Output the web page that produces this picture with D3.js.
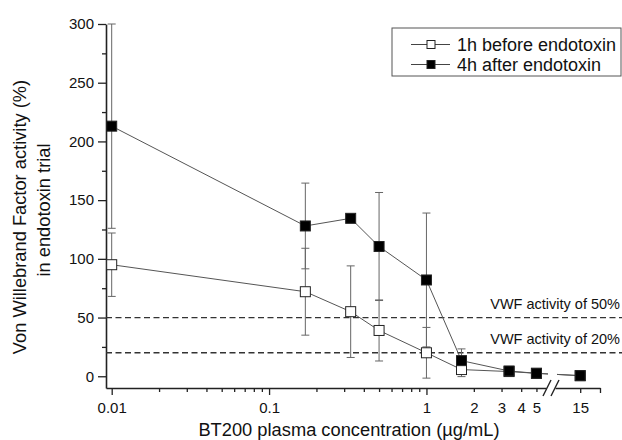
<!DOCTYPE html>
<html>
<head>
<meta charset="utf-8">
<script src="https://cdn.jsdelivr.net/npm/d3@7"></script>
<style>
  body { margin: 0; background: #fff; }
  svg { display: block; font-family: "Liberation Sans", Arial, sans-serif; }
</style>
</head>
<body>
<svg id="chart" width="622" height="440"></svg>
<script>

// concentrations (ug/mL), x = 15 sits after the axis break
var conc_before = [0.01, 0.17, 0.33, 0.5, 1.0, 1.67, 3.35, 5, 15];
var vwf_before  = [95, 72, 55, 39, 20, 5.7, 4, 2.5, 0.5];
var err_before  = [27, 37, 39, 26, 21.6, 6, null, null, null];

var conc_after = [0.01, 0.17, 0.33, 0.5, 1.0, 1.67, 3.35, 5, 15];
var vwf_after  = [213, 128, 134.5, 110.5, 82, 13.3, 4.5, 2.5, 0.5];
var err_after  = [87, 36.5, null, 46, 57, 10, null, null, null];

var xMajor = [0.01, 0.1, 1];
var xMinor = [0.02, 0.03, 0.04, 0.05, 0.06, 0.07, 0.08, 0.09,
              0.2, 0.3, 0.4, 0.5, 0.6, 0.7, 0.8, 0.9, 2, 3, 4, 5];
var xMinorLabeled = [2, 3, 4, 5];
var xRightTicks = [15, 20];
var yMajor = [0, 50, 100, 150, 200, 250, 300];
var yMinor = [25, 75, 125, 175, 225, 275];

var thresholds = [50, 20];
var thresholdLabels = ["VWF activity of 50%", "VWF activity of 20%"];

var seriesNames = ["1h before endotoxin", "4h after endotoxin"];


var svg = d3.select("#chart");

// broken log axis: two pieces sharing the same px per decade
var xA = d3.scaleLog().domain([0.0092, 5.75]).range([106, 546]);
var xB = d3.scaleLog().domain([10.4, 20]).range([555, 600]);
var y = d3.scaleLinear().domain([-10, 300]).range([388, 24]);
var breakAt = 8;

function xPos(v) { return v > breakAt ? xB(v) : xA(v); }

var fmt = function(d) { return String(d); };

// ---- x axis (left piece)
var gxMajor = svg.append("g")
    .attr("transform", "translate(0," + y(-10) + ")")
    .call(d3.axisBottom(xA).tickValues(xMajor).tickSize(7).tickSizeOuter(0).tickPadding(7).tickFormat(fmt));
var gxMinor = svg.append("g")
    .attr("transform", "translate(0," + y(-10) + ")")
    .call(d3.axisBottom(xA).tickValues(xMinor).tickSize(4).tickSizeOuter(0).tickPadding(10)
        .tickFormat(function(d) { return xMinorLabeled.indexOf(d) >= 0 ? fmt(d) : ""; }));
gxMinor.select(".domain").remove();

// ---- x axis (right piece)
var gxRight = svg.append("g")
    .attr("transform", "translate(0," + y(-10) + ")")
    .call(d3.axisBottom(xB).tickValues(xRightTicks).tickSize(5).tickSizeOuter(0).tickPadding(9)
        .tickFormat(function(d) { return d == 15 ? "15" : ""; }));

// ---- y axis
var gyMajor = svg.append("g")
    .attr("transform", "translate(" + xA.range()[0] + ",0)")
    .call(d3.axisLeft(y).tickValues(yMajor).tickSize(8).tickSizeOuter(0).tickPadding(4));
var gyMinor = svg.append("g")
    .attr("transform", "translate(" + xA.range()[0] + ",0)")
    .call(d3.axisLeft(y).tickValues(yMinor).tickSize(4).tickSizeOuter(0).tickFormat(""));
gyMinor.select(".domain").remove();

svg.selectAll(".domain").attr("stroke", "#222").attr("stroke-width", 1.6);
svg.selectAll(".tick line").attr("stroke", "#222").attr("stroke-width", 1.3);
svg.selectAll(".tick text").attr("fill", "#111").style("font-size", "15px")
    .style("font-family", "'Liberation Sans', Arial, sans-serif");

// axis break marks
var by = y(-10);
[xA.range()[1] + 1, xA.range()[1] + 9].forEach(function(bx) {
    svg.append("line")
        .attr("x1", bx - 4).attr("y1", by + 8)
        .attr("x2", bx + 4).attr("y2", by - 8)
        .attr("stroke", "#222").attr("stroke-width", 1.4);
});

// ---- threshold dashed lines
thresholds.forEach(function(t, i) {
    svg.append("line")
        .attr("x1", xA.range()[0]).attr("x2", 622)
        .attr("y1", y(t)).attr("y2", y(t))
        .attr("stroke", "#333").attr("stroke-width", 1.3)
        .attr("stroke-dasharray", "6,3.5");
    svg.append("text")
        .attr("x", 620).attr("y", y(t) - 9)
        .attr("text-anchor", "end")
        .style("font-size", "14.5px").attr("fill", "#111")
        .text(thresholdLabels[i]);
});

// ---- series lines (gap where the line crosses the axis break)
function drawLine(xs, vs) {
    var gapL = xA.range()[1] + 2, gapR = xB.range()[0] + 2;
    var segs = [[]];
    for (var i = 0; i < xs.length; i++) {
        var px = xPos(xs[i]), py = y(vs[i]);
        if (i > 0 && xs[i - 1] <= breakAt && xs[i] > breakAt) {
            var qx = xPos(xs[i - 1]), qy = y(vs[i - 1]);
            var f = function(x) { return qy + (py - qy) * (x - qx) / (px - qx); };
            segs[segs.length - 1].push([gapL, f(gapL)]);
            segs.push([[gapR, f(gapR)]]);
        }
        segs[segs.length - 1].push([px, py]);
    }
    segs.forEach(function(s) {
        svg.append("path")
            .attr("d", d3.line()(s))
            .attr("fill", "none").attr("stroke", "#555").attr("stroke-width", 1);
    });
}

function drawErrors(xs, vs, es) {
    xs.forEach(function(c, i) {
        if (es[i] == null) return;
        var px = xPos(c);
        var g = svg.append("g").attr("stroke", "#666").attr("stroke-width", 1);
        g.append("line").attr("x1", px).attr("x2", px).attr("y1", y(vs[i] - es[i])).attr("y2", y(vs[i] + es[i]));
        g.append("line").attr("x1", px - 4).attr("x2", px + 4).attr("y1", y(vs[i] - es[i])).attr("y2", y(vs[i] - es[i]));
        g.append("line").attr("x1", px - 4).attr("x2", px + 4).attr("y1", y(vs[i] + es[i])).attr("y2", y(vs[i] + es[i]));
    });
}

function drawSquares(xs, vs, fill) {
    svg.append("g").selectAll("rect")
        .data(xs)
        .join("rect")
        .attr("x", function(d) { return xPos(d) - 5; })
        .attr("y", function(d, i) { return y(vs[i]) - 5; })
        .attr("width", 10).attr("height", 10)
        .attr("fill", fill).attr("stroke", "#222").attr("stroke-width", 1);
}

drawErrors(conc_before, vwf_before, err_before);
drawErrors(conc_after, vwf_after, err_after);
drawLine(conc_before, vwf_before);
drawLine(conc_after, vwf_after);
drawSquares(conc_before, vwf_before, "#fff");
drawSquares(conc_after, vwf_after, "#000");

// ---- legend
var legend = svg.append("g");
legend.append("rect")
    .attr("x", 392).attr("y", 28).attr("width", 229).attr("height", 48)
    .attr("fill", "#fff").attr("stroke", "#555").attr("stroke-width", 1);
seriesNames.forEach(function(name, i) {
    var ly = 44.5 + i * 20;
    legend.append("line").attr("x1", 411).attr("x2", 450).attr("y1", ly).attr("y2", ly)
        .attr("stroke", "#444").attr("stroke-width", 1);
    legend.append("rect").attr("x", 427).attr("y", ly - 4).attr("width", 8).attr("height", 8)
        .attr("fill", i == 0 ? "#fff" : "#000").attr("stroke", "#222");
    legend.append("text").attr("x", 457).attr("y", ly + 6)
        .style("font-size", "18px").attr("fill", "#111").text(name);
});

// ---- axis titles
svg.append("text")
    .attr("x", 349).attr("y", 436)
    .attr("text-anchor", "middle")
    .style("font-size", "18.3px").attr("fill", "#111")
    .text("BT200 plasma concentration (µg/mL)");

var yt = svg.append("text")
    .attr("transform", "rotate(-90)")
    .attr("text-anchor", "middle")
    .style("font-size", "18.3px").attr("fill", "#111");
yt.append("tspan").attr("x", -217).attr("y", 26).text("Von Willebrand Factor activity (%)");
yt.append("tspan").attr("x", -210).attr("y", 49.5).text("in endotoxin trial");

</script>
</body>
</html>
